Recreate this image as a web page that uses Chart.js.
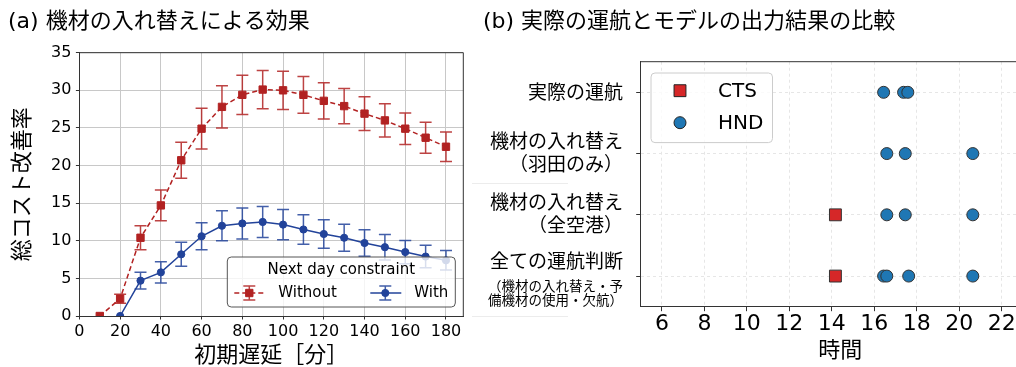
<!DOCTYPE html>
<html lang="ja">
<head>
<meta charset="UTF-8">
<title>機材の入れ替えによる効果 / 実際の運航とモデルの出力結果の比較</title>
<script src="https://cdn.jsdelivr.net/npm/chart.js"></script>
<style>
  html, body { margin: 0; padding: 0; overflow: hidden; background: #fff; }
  #wrap { position: relative; width: 1016px; height: 367px; overflow: hidden; }
  #left { position: absolute; left: 0; top: 0; }
  #right { position: absolute; left: 470px; top: 0; }
  .rule { position: absolute; left: 472px; width: 96px; height: 1px; background: #ececec; }
</style>
</head>
<body>
<div id="wrap">
  <canvas id="left" width="470" height="367"></canvas>
  <canvas id="right" width="580" height="367"></canvas>
  <div class="rule" style="top:183px"></div>
  <div class="rule" style="top:316px"></div>
</div>
<script>
// (a) 初期遅延ごとの総コスト改善率（平均と誤差）
const DELAYS = [10, 20, 30, 40, 50, 60, 70, 80, 90, 100, 110, 120, 130, 140, 150, 160, 170, 180];
const WITHOUT_MEAN = [0, 2.3, 10.4, 14.7, 20.7, 24.9, 27.8, 29.4, 30.1, 30.0, 29.4, 28.6, 27.9, 26.9, 26.0, 24.9, 23.7, 22.5];
const WITHOUT_ERR = [0, 0.6, 1.6, 2.05, 2.4, 2.7, 2.8, 2.6, 2.55, 2.55, 2.45, 2.4, 2.35, 2.25, 2.2, 2.1, 2.05, 1.95];
const WITH_MEAN = [null, 0, 4.7, 5.8, 8.2, 10.6, 12.0, 12.3, 12.5, 12.15, 11.5, 10.9, 10.4, 9.7, 9.15, 8.5, 7.9, 7.4];
const WITH_ERR = [null, 0, 1.1, 1.4, 1.6, 1.8, 2.0, 2.05, 2.05, 2.0, 1.95, 1.9, 1.8, 1.75, 1.7, 1.55, 1.5, 1.3];
const DELAY_TICKS = [0, 20, 40, 60, 80, 100, 120, 140, 160, 180];
const RATE_TICKS = [0, 5, 10, 15, 20, 25, 30, 35];

// (b) 各ケースの時刻
const ROW_LABELS = [
  ['実際の運航'],
  ['機材の入れ替え', '（羽田のみ）'],
  ['機材の入れ替え', '（全空港）'],
  ['全ての運航判断', '（機材の入れ替え・予', '備機材の使用・欠航）']
];
const CTS_TIMES = [[], [], [14.17], [14.17]];
const HND_TIMES = [
  [16.44, 17.38, 17.58],
  [16.59, 17.46, 20.64],
  [16.59, 17.46, 20.64],
  [16.44, 16.59, 17.62, 20.64]
];
const HOUR_TICKS = [6, 8, 10, 12, 14, 16, 18, 20, 22];

const FONT = '"DejaVu Sans", "Noto Sans CJK JP", sans-serif';
const RED = '#b22222';
const BLUE = '#22439a';
Chart.defaults.font.family = FONT;
Chart.defaults.color = '#000';

function toPoints(xs, ys) {
  return xs.map((x, i) => ({x: x, y: ys[i]}));
}
function rowPoints(rows) {
  return rows.flatMap((times, r) => times.map(t => ({x: t, y: r})));
}
function fixedTicks(list) {
  return scale => { scale.ticks = list.map(v => ({value: v})); };
}

function marker(ctx, style, x, y, r) {
  ctx.beginPath();
  if (style === 'rect') {
    const s = Math.SQRT1_2 * r;
    ctx.rect(x - s, y - s, 2 * s, 2 * s);
  } else {
    ctx.arc(x, y, r, 0, Math.PI * 2);
  }
  ctx.fill();
  ctx.stroke();
}

// error bars from the datasets' errors arrays
const errorBars = {
  id: 'errorBars',
  beforeDatasetsDraw(chart) {
    const {ctx, chartArea: a, scales: {x, y}} = chart;
    ctx.save();
    ctx.beginPath();
    ctx.rect(a.left, a.top, a.right - a.left, a.bottom - a.top);
    ctx.clip();
    chart.data.datasets.forEach(ds => {
      if (!ds.errors) return;
      ctx.strokeStyle = ds.borderColor;
      ctx.globalAlpha = 0.85;
      ctx.lineWidth = 1.5;
      ds.data.forEach((p, i) => {
        const e = ds.errors[i];
        if (p.y == null || !e) return;
        const px = x.getPixelForValue(p.x);
        const top = y.getPixelForValue(p.y + e);
        const bot = y.getPixelForValue(p.y - e);
        ctx.beginPath();
        ctx.moveTo(px, top); ctx.lineTo(px, bot);
        ctx.moveTo(px - 6, top); ctx.lineTo(px + 6, top);
        ctx.moveTo(px - 6, bot); ctx.lineTo(px + 6, bot);
        ctx.stroke();
      });
    });
    ctx.restore();
  }
};

// top / right spines
const frame = {
  id: 'frame',
  afterDraw(chart, args, opts) {
    const {ctx, chartArea: a} = chart;
    ctx.save();
    ctx.strokeStyle = '#333';
    ctx.lineWidth = 1;
    ctx.beginPath();
    ctx.moveTo(a.left, a.top); ctx.lineTo(a.right, a.top);
    if (opts.right) { ctx.moveTo(a.right, a.top); ctx.lineTo(a.right, a.bottom); }
    ctx.stroke();
    ctx.restore();
  }
};

// legend inside the plot for (a)
const nextDayLegend = {
  id: 'nextDayLegend',
  afterDatasetsDraw(chart) {
    const {ctx, chartArea: a} = chart;
    const w = 228, h = 50;
    const x0 = a.right - 8 - w, y0 = a.bottom - 9 - h;
    ctx.save();
    ctx.beginPath();
    ctx.roundRect(x0, y0, w, h, 4);
    ctx.fillStyle = 'rgba(255,255,255,0.8)';
    ctx.fill();
    ctx.strokeStyle = '#555';
    ctx.lineWidth = 1;
    ctx.stroke();

    ctx.fillStyle = '#000';
    ctx.font = '15px ' + FONT;
    ctx.textAlign = 'center';
    ctx.textBaseline = 'middle';
    ctx.fillText('Next day constraint', x0 + w / 2, y0 + 13);

    const rowY = y0 + 36;
    const starts = [x0 + 7, x0 + 143];
    chart.data.datasets.forEach((ds, i) => {
      const hx = starts[i], mx = hx + 15;
      ctx.strokeStyle = ds.borderColor;
      ctx.fillStyle = ds.borderColor;
      ctx.lineWidth = 1.5;
      ctx.setLineDash(ds.borderDash || []);
      ctx.beginPath();
      ctx.moveTo(hx, rowY); ctx.lineTo(hx + 31, rowY);
      ctx.stroke();
      ctx.setLineDash([]);
      ctx.globalAlpha = 0.85;
      ctx.beginPath();
      ctx.moveTo(mx, rowY - 7); ctx.lineTo(mx, rowY + 7);
      ctx.moveTo(mx - 6, rowY - 7); ctx.lineTo(mx + 6, rowY - 7);
      ctx.moveTo(mx - 6, rowY + 7); ctx.lineTo(mx + 6, rowY + 7);
      ctx.stroke();
      ctx.globalAlpha = 1;
      ctx.lineWidth = 1;
      marker(ctx, ds.pointStyle, mx, rowY, ds.pointRadius);
      ctx.fillStyle = '#000';
      ctx.textAlign = 'left';
      ctx.fillText(ds.label, hx + 44, rowY);
    });
    ctx.restore();
  }
};

// category labels for (b)
const rowLabels = {
  id: 'rowLabels',
  afterDraw(chart) {
    const {ctx, chartArea: a, scales: {y}} = chart;
    const rx = a.left - 17.7;
    ctx.save();
    ctx.fillStyle = '#000';
    ctx.textAlign = 'right';
    ctx.textBaseline = 'middle';
    ROW_LABELS.forEach((lines, i) => {
      const py = y.getPixelForValue(i);
      if (lines.length === 1) {
        ctx.font = '19px ' + FONT;
        ctx.fillText(lines[0], rx, py + 1.5);
      } else if (lines.length === 2) {
        ctx.font = '19px ' + FONT;
        ctx.fillText(lines[0], rx, py - 11);
        ctx.fillText(lines[1], rx, py + 12.5);
      } else {
        ctx.font = '19px ' + FONT;
        ctx.fillText(lines[0], rx, py - 13);
        ctx.font = '13.5px ' + FONT;
        lines.slice(1).forEach((t, k) => ctx.fillText(t, rx, py + 11.8 + k * 13.6));
      }
    });
    ctx.restore();
  }
};

// legend inside the plot for (b)
const airportLegend = {
  id: 'airportLegend',
  afterDatasetsDraw(chart) {
    const {ctx, chartArea: a} = chart;
    const x0 = a.left + 10.3, y0 = a.top + 11.3, w = 121.5, h = 69.6;
    ctx.save();
    ctx.beginPath();
    ctx.roundRect(x0, y0, w, h, 4);
    ctx.fillStyle = 'rgba(255,255,255,0.8)';
    ctx.fill();
    ctx.strokeStyle = '#cccccc';
    ctx.lineWidth = 1;
    ctx.stroke();
    ctx.font = '20px ' + FONT;
    ctx.textBaseline = 'middle';
    ctx.textAlign = 'left';
    chart.data.datasets.forEach((ds, i) => {
      const my = y0 + 17.7 + i * 32;
      ctx.fillStyle = ds.pointBackgroundColor;
      ctx.strokeStyle = '#222';
      ctx.lineWidth = 1;
      marker(ctx, ds.pointStyle, x0 + 29, my, ds.pointStyle === 'rect' ? 8.4 : 6);
      ctx.fillStyle = '#000';
      ctx.fillText(ds.label, x0 + 67, my + 1);
    });
    ctx.restore();
  }
};

new Chart(document.getElementById('left'), {
  type: 'line',
  data: {
    datasets: [
      {
        label: 'Without',
        data: toPoints(DELAYS, WITHOUT_MEAN),
        errors: WITHOUT_ERR,
        borderColor: RED,
        backgroundColor: RED,
        borderWidth: 1.5,
        borderDash: [5, 3],
        pointStyle: 'rect',
        pointRadius: 5.2,
        pointBorderWidth: 1,
        tension: 0,
        clip: 0
      },
      {
        label: 'With',
        data: toPoints(DELAYS, WITH_MEAN),
        errors: WITH_ERR,
        borderColor: BLUE,
        backgroundColor: BLUE,
        borderWidth: 1.5,
        pointStyle: 'circle',
        pointRadius: 3.6,
        pointBorderWidth: 1,
        tension: 0,
        clip: 0
      }
    ]
  },
  options: {
    responsive: false,
    animation: false,
    layout: {padding: {left: 8, right: 6.7, top: 0, bottom: 0}},
    plugins: {
      legend: {display: false},
      tooltip: {enabled: false},
      title: {
        display: true,
        text: '(a) 機材の入れ替えによる効果',
        align: 'start',
        color: '#000',
        font: {size: 22, weight: 'normal'},
        padding: {top: 9, bottom: 17.3}
      },
      frame: {right: true}
    },
    scales: {
      x: {
        type: 'linear',
        min: 0,
        max: 188.5,
        afterBuildTicks: fixedTicks(DELAY_TICKS),
        afterFit: s => { s.height = 51; },
        ticks: {font: {size: 16, lineHeight: 1}, padding: 4.5, maxRotation: 0},
        grid: {color: '#c8c8c8', lineWidth: 1, tickColor: '#333', tickLength: 3.5},
        border: {color: '#333', width: 1},
        title: {display: true, text: '初期遅延［分］', font: {size: 22, lineHeight: 1}, padding: {top: 0, bottom: 0}}
      },
      y: {
        type: 'linear',
        min: 0,
        max: 35,
        afterBuildTicks: fixedTicks(RATE_TICKS),
        afterFit: s => { s.width = 71.4; },
        ticks: {font: {size: 16}, padding: 4.5},
        grid: {color: '#c8c8c8', lineWidth: 1, tickColor: '#333', tickLength: 3.5},
        border: {color: '#333', width: 1},
        title: {display: true, text: '総コスト改善率', font: {size: 22, lineHeight: 1}, padding: {top: 4.3, bottom: 0}}
      }
    }
  },
  plugins: [errorBars, frame, nextDayLegend]
});

new Chart(document.getElementById('right'), {
  type: 'scatter',
  data: {
    datasets: [
      {
        label: 'CTS',
        data: rowPoints(CTS_TIMES),
        pointStyle: 'rect',
        pointRadius: 8.4,
        pointBackgroundColor: '#d62728',
        pointBorderColor: '#333',
        pointBorderWidth: 1
      },
      {
        label: 'HND',
        data: rowPoints(HND_TIMES),
        pointStyle: 'circle',
        pointRadius: 6,
        pointBackgroundColor: '#1f77b4',
        pointBorderColor: '#333',
        pointBorderWidth: 1
      }
    ]
  },
  options: {
    responsive: false,
    animation: false,
    layout: {padding: {left: 13, right: 10.1, top: 0, bottom: 0}},
    plugins: {
      legend: {display: false},
      tooltip: {enabled: false},
      title: {
        display: true,
        text: '(b) 実際の運航とモデルの出力結果の比較',
        align: 'start',
        color: '#000',
        font: {size: 22, weight: 'normal'},
        padding: {top: 9, bottom: 26.3}
      },
      frame: {right: false}
    },
    scales: {
      x: {
        type: 'linear',
        min: 5,
        max: 23.8,
        afterBuildTicks: fixedTicks(HOUR_TICKS),
        afterFit: s => { s.height = 60.3; },
        ticks: {font: {size: 22, lineHeight: 1}, padding: 1.6, maxRotation: 0},
        grid: {color: '#e6e6e6', lineWidth: 1, tickColor: '#333', tickLength: 4.5},
        border: {color: '#333', width: 1, dash: [3, 3]},
        title: {display: true, text: '時間', font: {size: 22, lineHeight: 1}, padding: {top: 0, bottom: 4.3}}
      },
      y: {
        type: 'linear',
        min: -0.5,
        max: 3.5,
        reverse: true,
        afterBuildTicks: fixedTicks([0, 1, 2, 3]),
        afterFit: s => { s.width = 157.7; },
        ticks: {display: false},
        grid: {color: '#e6e6e6', lineWidth: 1, tickColor: '#333', tickLength: 4.5},
        border: {color: '#333', width: 1, dash: [3, 3]}
      }
    }
  },
  plugins: [frame, rowLabels, airportLegend]
});
</script>
</body>
</html>
